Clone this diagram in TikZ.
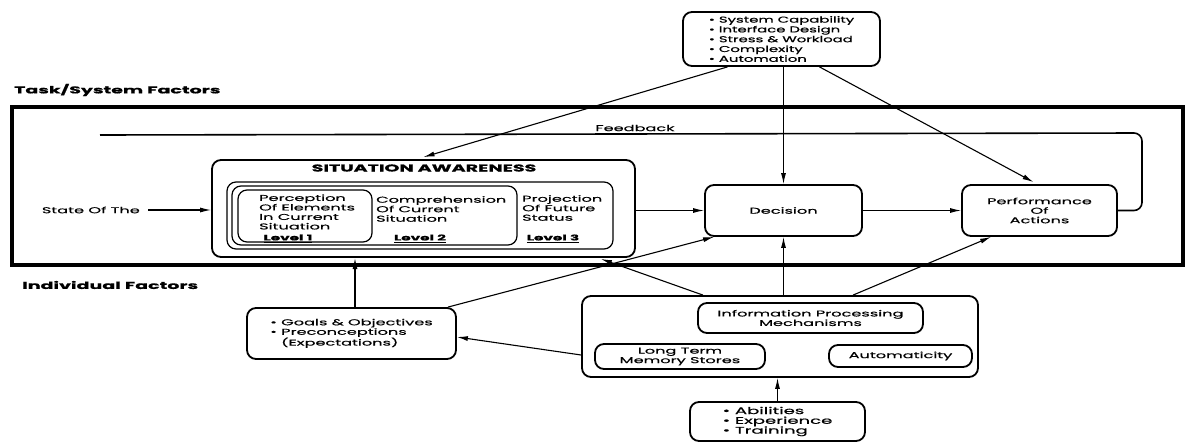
\documentclass[tikz,border=0pt]{standalone}
\usepackage{fontspec}
\setmainfont{Poppins}[FakeStretch=1.9,FakeBold=0.6]
\newfontfamily\taskfont{Poppins}[FakeStretch=1.75,FakeBold=0.8]
\usetikzlibrary{arrows.meta}
\tikzstyle{frame-node}=[draw,line width=3.5pt,inner sep=0pt]
\tikzstyle{box-node}=[draw,rounded corners=9pt,line width=1.8pt,inner sep=0pt,align=center,font=\fontsize{8.5}{9.5}\selectfont]
\tikzstyle{level-node}=[draw,rounded corners=9pt,line width=1.2pt,inner sep=0pt]
\tikzstyle{text-node}=[inner sep=0pt,align=left,font=\fontsize{8.5}{9.5}\selectfont]
\tikzstyle{title-node}=[inner sep=0pt,font=\bfseries\fontsize{10}{12}\selectfont]
\tikzstyle{flow}=[-{Latex[length=11pt,width=5pt]},line width=1.1pt]

\begin{document}
\begin{tikzpicture}[x=1pt,y=-1pt]
        \useasboundingbox (0,0) rectangle (1187,444);
        \begin{scope}
            \node[title-node,anchor=west] at (14,90) (tasklabel) {Task/System Factors};
            \node[title-node,anchor=west] at (22,285) (indlabel) {Individual Factors};
            \node[frame-node,minimum width=1171pt,minimum height=158pt] at (597.5,186) (frame) {};

            \node[box-node,align=left,font=\taskfont\fontsize{8.5}{9.8}\selectfont,minimum width=197pt,minimum height=54pt] at (781.5,39) (task) {\textbullet\ System Capability\\\textbullet\ Interface Design\\\textbullet\ Stress \& Workload\\\textbullet\ Complexity\\\textbullet\ Automation};

            \node[box-node,minimum width=423pt,minimum height=97pt] at (423.5,208.5) (sa) {};
            \node[level-node,minimum width=386pt,minimum height=67pt] at (420,215.5) (lvl3) {};
            \node[level-node,minimum width=285pt,minimum height=59pt] at (374.5,215.5) (lvl2) {};
            \node[level-node,minimum width=134pt,minimum height=52pt] at (305,216) (lvl1) {};
            \node[title-node] at (424,168) (satitle) {SITUATION AWARENESS};
            \node[text-node,anchor=west] at (259,212) (perc) {Perception\\Of Elements\\In Current\\Situation};
            \node[text-node,anchor=west] at (376,209) (comp) {Comprehension\\Of Current\\Situation};
            \node[text-node,anchor=west] at (522,208) (proj) {Projection\\Of Future\\Status};
            \node[text-node,font=\bfseries\fontsize{8}{9.5}\selectfont] at (288,238.5) (l1) {\underline{Level 1}};
            \node[text-node,font=\bfseries\fontsize{8}{9.5}\selectfont] at (420,238.5) (l2) {\underline{Level 2}};
            \node[text-node,font=\bfseries\fontsize{8}{9.5}\selectfont] at (553,238.5) (l3) {\underline{Level 3}};

            \node[text-node,anchor=east] at (140,210) (state) {State Of The};
            \node[box-node,minimum width=157pt,minimum height=51pt] at (783.5,210.5) (decision) {Decision};
            \node[box-node,minimum width=155pt,minimum height=51pt] at (1039.5,210.5) (perf) {Performance\\Of\\Actions};
            \node[text-node] at (635,128) (fblabel) {Feedback};
            \coordinate (fbturn) at (1142,133);
            \coordinate (fbend) at (100,135);

            \node[box-node,minimum width=209pt,minimum height=51pt] at (351.5,333.5) (goals) {\begin{tabular}{@{}l@{\ }l@{}}\textbullet & Goals \& Objectives\\\textbullet & Preconceptions\\ & (Expectations)\end{tabular}};
            \node[box-node,minimum width=396pt,minimum height=81pt] at (780,336.5) (ip) {};
            \node[box-node,minimum width=225pt,minimum height=30pt] at (810.5,318) (infoproc) {Information Processing\\Mechanisms};
            \node[box-node,minimum width=170pt,minimum height=25pt] at (680,356.5) (ltm) {Long Term\\Memory Stores};
            \node[box-node,minimum width=143pt,minimum height=22pt] at (900.5,356) (auto) {Automaticity};
            \node[box-node,align=left,font=\fontsize{9.5}{9.8}\selectfont,minimum width=175pt,minimum height=39pt] at (777.5,421.5) (abil) {\textbullet\ Abilities\\\textbullet\ Experience\\\textbullet\ Training};

            \draw[flow] ([xshift=8pt]state.east) -- (sa.west|-state);
            \draw[flow] (sa.east|-decision) -- (decision.west);
            \draw[flow] (decision) -- (perf);
            \draw[line width=1.6pt,rounded corners=8pt] (perf.east) -| (fbturn) -- (fbend);

            \draw[flow] ([xshift=-54pt]task.south) -- ([yshift=2pt]sa.north);
            \draw[flow] (task.south-|decision.north) -- (decision.north);
            \draw[flow] ([xshift=38pt]task.south) -- ([xshift=-6pt,yshift=2pt]perf.north);

            \draw[flow] (goals.north-|355,0) -- ([yshift=-1pt]355,257);
            \draw[flow] ([xshift=-9pt]goals.north east) -- ([xshift=10pt]decision.south west);
            \draw[flow] ([xshift=-77pt]ip.north) -- ([xshift=-35pt,yshift=-1pt]sa.south east);
            \draw[flow] (decision.south|-ip.north) -- (decision.south);
            \draw[flow] ([xshift=73pt]ip.north) -- ([xshift=30pt]perf.south west);
            \draw[flow] ([yshift=-18.5pt]ip.west) -- ([yshift=-3.5pt]goals.east);
            \draw[flow] (abil.north) -- (abil.north|-ip.south);
        \end{scope}
\end{tikzpicture}
\end{document}
